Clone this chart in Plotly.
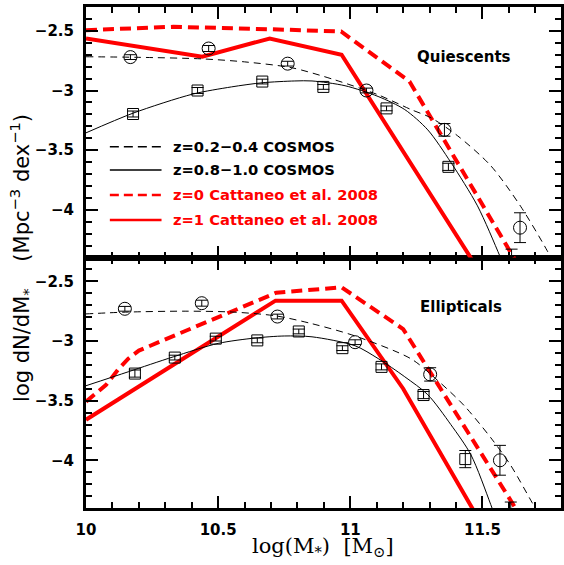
import plotly.graph_objects as go

# ---------------- data ----------------
# Quiescents (top panel)
q_lo_x = [10.168, 10.464, 10.763, 11.061, 11.356, 11.642]
q_lo_y = [-2.72, -2.648, -2.775, -3.0, -3.33, -4.15]
q_lo_e = [0.02, 0.025, 0.02, 0.02, 0.053, 0.125]

q_hi_x = [10.178, 10.422, 10.667, 10.898, 11.137, 11.371, 11.61]
q_hi_y = [-3.197, -3.0, -2.925, -2.97, -3.15, -3.64, -4.55]
q_hi_e = [0.025, 0.025, 0.02, 0.02, 0.02, 0.03, 0.22]

q_lo_fit_x = [10.0, 10.2, 10.44, 10.6, 10.78, 10.94, 11.105, 11.23, 11.306, 11.406, 11.531, 11.644, 11.744, 11.8]
q_lo_fit_y = [-2.717, -2.722, -2.735, -2.76, -2.81, -2.91, -3.036, -3.16, -3.23, -3.38, -3.63, -3.97, -4.34, -4.58]

q_hi_fit_x = [10.0, 10.178, 10.404, 10.55, 10.667, 10.79, 10.855, 10.98, 11.105, 11.206, 11.293, 11.381, 11.481, 11.566, 11.6]
q_hi_fit_y = [-3.355, -3.19, -3.03, -2.97, -2.935, -2.92, -2.92, -2.96, -3.05, -3.16, -3.33, -3.605, -3.967, -4.39, -4.58]

q_c0_x = [10.0, 10.33, 10.69, 10.965, 11.224, 11.65]
q_c0_y = [-2.494, -2.466, -2.486, -2.505, -2.925, -4.52]

q_c1_x = [10.0, 10.44, 10.695, 10.967, 11.5]
q_c1_y = [-2.564, -2.716, -2.564, -2.70, -4.557]

# Ellipticals (bottom panel)
e_lo_x = [10.147, 10.438, 10.724, 11.018, 11.302, 11.566]
e_lo_y = [-2.73, -2.683, -2.795, -3.01, -3.28, -4.0]
e_lo_e = [0.02, 0.025, 0.02, 0.02, 0.056, 0.125]

e_hi_x = [10.185, 10.336, 10.491, 10.648, 10.805, 10.97, 11.118, 11.277, 11.435, 11.607]
e_hi_y = [-3.273, -3.139, -2.98, -2.995, -2.92, -3.06, -3.217, -3.453, -3.99, -4.57]
e_hi_e = [0.03, 0.02, 0.02, 0.02, 0.02, 0.02, 0.025, 0.03, 0.072, 0.22]

e_lo_fit_x = [10.0, 10.15, 10.375, 10.56, 10.72, 10.855, 11.018, 11.23, 11.33, 11.43, 11.531, 11.606, 11.688, 11.75]
e_lo_fit_y = [-2.773, -2.758, -2.75, -2.758, -2.79, -2.855, -2.958, -3.15, -3.33, -3.54, -3.81, -4.04, -4.356, -4.6]

e_hi_fit_x = [10.0, 10.16, 10.33, 10.5, 10.64, 10.75, 10.855, 11.018, 11.105, 11.206, 11.293, 11.38, 11.456, 11.531, 11.56]
e_hi_fit_y = [-3.375, -3.258, -3.133, -3.02, -2.975, -2.958, -2.965, -3.04, -3.147, -3.30, -3.45, -3.70, -3.953, -4.37, -4.55]

e_c0_x = [10.0, 10.075, 10.125, 10.16, 10.2, 10.72, 10.967, 11.2, 11.65]
e_c0_y = [-3.508, -3.37, -3.23, -3.148, -3.08, -2.595, -2.55, -2.9, -4.49]

e_c1_x = [10.0, 10.717, 10.967, 11.2, 11.5]
e_c1_y = [-3.66, -2.662, -2.662, -3.4, -4.55]

legend_labels = ["z=0.2\u22120.4 COSMOS", "z=0.8\u22121.0 COSMOS",
                 "z=0 Cattaneo et al. 2008", "z=1 Cattaneo et al. 2008"]
panel_labels = ["Quiescents", "Ellipticals"]
x_ticks = [10, 10.5, 11, 11.5]
x_ticktext = ["10", "10.5", "11", "11.5"]
y_ticks = [-2.5, -3, -3.5, -4]
y_ticktext = ["\u22122.5", "\u22123", "\u22123.5", "\u22124"]

RED = "#ff0000"
fig = go.Figure()


def add_panel(xa, ya, lo_x, lo_y, lo_e, hi_x, hi_y, hi_e, lofx, lofy, hifx, hify, c0x, c0y, c1x, c1y):
    fig.add_trace(go.Scatter(x=c0x, y=c0y, mode="lines", xaxis=xa, yaxis=ya,
                             line=dict(color=RED, width=4, dash="11px,6px"), showlegend=False))
    fig.add_trace(go.Scatter(x=c1x, y=c1y, mode="lines", xaxis=xa, yaxis=ya,
                             line=dict(color=RED, width=4), showlegend=False))
    fig.add_trace(go.Scatter(x=lofx, y=lofy, mode="lines", xaxis=xa, yaxis=ya,
                             line=dict(color="black", width=1, dash="7px,5px", shape="spline", smoothing=0.8),
                             showlegend=False))
    fig.add_trace(go.Scatter(x=hifx, y=hify, mode="lines", xaxis=xa, yaxis=ya,
                             line=dict(color="black", width=1, shape="spline", smoothing=0.8),
                             showlegend=False))
    fig.add_trace(go.Scatter(x=lo_x, y=lo_y, mode="markers", xaxis=xa, yaxis=ya,
                             marker=dict(symbol="circle-open", size=13, color="black", line=dict(width=1)),
                             error_y=dict(type="data", array=lo_e, visible=True, thickness=1, width=6, color="black"),
                             showlegend=False))
    fig.add_trace(go.Scatter(x=hi_x, y=hi_y, mode="markers", xaxis=xa, yaxis=ya,
                             marker=dict(symbol="square-open", size=11, color="black", line=dict(width=1)),
                             error_y=dict(type="data", array=hi_e, visible=True, thickness=1, width=6, color="black"),
                             showlegend=False))


add_panel("x2", "y2", q_lo_x, q_lo_y, q_lo_e, q_hi_x, q_hi_y, q_hi_e,
          q_lo_fit_x, q_lo_fit_y, q_hi_fit_x, q_hi_fit_y, q_c0_x, q_c0_y, q_c1_x, q_c1_y)
add_panel("x", "y", e_lo_x, e_lo_y, e_lo_e, e_hi_x, e_hi_y, e_hi_e,
          e_lo_fit_x, e_lo_fit_y, e_hi_fit_x, e_hi_fit_y, e_c0_x, e_c0_y, e_c1_x, e_c1_y)

tickfont = dict(family="DejaVu Sans", size=15, color="black", weight="bold")
minor_x = dict(dtick=0.1, ticklen=6, tickwidth=1.5, tickcolor="black", ticks="inside")
minor_y = dict(dtick=0.1, ticklen=6, tickwidth=1.5, tickcolor="black", ticks="inside")
xcommon = dict(range=[10, 11.797], tickvals=x_ticks, ticktext=x_ticktext, ticks="inside", ticklen=12,
               tickwidth=1.5, tickcolor="black", showline=True, linewidth=3, linecolor="black",
               mirror="allticks", showgrid=False, zeroline=False, minor=minor_x, tickfont=tickfont)
ycommon = dict(range=[-4.4, -2.3], tickvals=y_ticks, ticktext=y_ticktext, ticks="inside", ticklen=12,
               tickwidth=1.5, tickcolor="black", showline=True, linewidth=3, linecolor="black",
               mirror="allticks", showgrid=False, zeroline=False, minor=minor_y, tickfont=tickfont,
               ticklabelstandoff=6)

fig.update_layout(
    width=564, height=565,
    margin=dict(l=86, r=0, t=7, b=57),
    plot_bgcolor="white", paper_bgcolor="white",
    xaxis=dict(anchor="y", domain=[0, 1], ticklabelstandoff=6, **xcommon),
    xaxis2=dict(anchor="y2", domain=[0, 1], matches="x", showticklabels=False, **xcommon),
    yaxis=dict(anchor="x", domain=[0, 0.5], **ycommon),
    yaxis2=dict(anchor="x2", domain=[0.5, 1], **ycommon),
    showlegend=False,
)

# manual legend (top panel)
leg_styles = [dict(color="black", width=1.5, dash="9px,5px"),
              dict(color="black", width=1.5),
              dict(color=RED, width=2.5, dash="9px,5px"),
              dict(color=RED, width=2.5)]
leg_colors = ["black", "black", RED, RED]
leg_y = [0.7212, 0.6747, 0.6248, 0.5749]
for lab, sty, col, yy in zip(legend_labels, leg_styles, leg_colors, leg_y):
    fig.add_shape(type="line", xref="paper", yref="paper", x0=0.0502, x1=0.159, y0=yy, y1=yy, line=sty)
    fig.add_annotation(xref="paper", yref="paper", x=0.1793, y=yy, text=lab, showarrow=False,
                       xanchor="left", yanchor="middle",
                       font=dict(family="DejaVu Sans", size=14.7, color=col, weight="bold"))

fig.add_annotation(xref="paper", yref="paper", x=0.7965, y=0.9008, text=panel_labels[0], showarrow=False,
                   xanchor="center", yanchor="middle",
                   font=dict(family="DejaVu Sans", size=15, color="black", weight="bold"))
fig.add_annotation(xref="paper", yref="paper", x=0.7887, y=0.4006, text=panel_labels[1], showarrow=False,
                   xanchor="center", yanchor="middle",
                   font=dict(family="DejaVu Sans", size=15, color="black", weight="bold"))

# axis titles
fig.add_annotation(xref="paper", yref="paper", x=-0.138, y=0.5, textangle=-90,
                   text="log dN/dM<sub>*</sub>\u00a0\u00a0\u00a0\u00a0(Mpc<sup>\u22123</sup> dex<sup>\u22121</sup>)",
                   showarrow=False, xanchor="center", yanchor="middle",
                   font=dict(family="DejaVu Sans", size=21, color="black"))
fig.add_annotation(xref="paper", yref="paper", x=0.498, y=-0.078,
                   text="log(M<sub>*</sub>)  [M<sub>\u2299</sub>]",
                   showarrow=False, xanchor="center", yanchor="middle",
                   font=dict(family="DejaVu Serif", size=21, color="black"))

fig.write_html("out.html", config={"displayModeBar": False},
               post_script="document.body.style.margin='0';document.body.style.overflow='hidden';")
